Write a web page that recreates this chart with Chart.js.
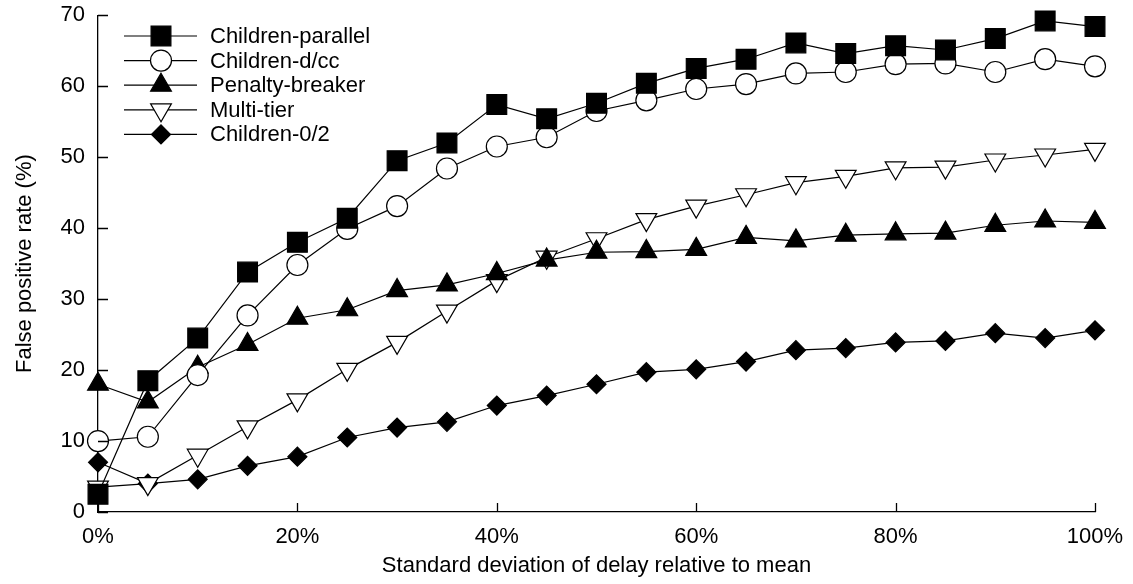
<!DOCTYPE html>
<html>
<head>
<meta charset="utf-8">
<script src="https://cdn.jsdelivr.net/npm/chart.js@4/dist/chart.umd.min.js"></script>
<style>
  html, body { margin: 0; padding: 0; background: #fff; }
  #wrap { width: 1133px; height: 584px; }
</style>
</head>
<body>
<div id="wrap"><canvas id="fprChart" width="1133" height="584"></canvas></div>
<script>
// x positions: std. deviation of delay relative to mean (%)
const xValues = [0, 5, 10, 15, 20, 25, 30, 35, 40, 45, 50, 55, 60, 65, 70, 75, 80, 85, 90, 95, 100];

const seriesNames = ['Children-parallel', 'Children-d/cc', 'Penalty-breaker', 'Multi-tier', 'Children-0/2'];

const childrenParallel = [2.5, 18.5, 24.5, 33.8, 38.0, 41.4, 49.5, 52.0, 57.4, 55.4, 57.6, 60.4, 62.5, 63.8, 66.1, 64.6, 65.7, 65.1, 66.7, 69.2, 68.4];
const childrenDcc      = [10.0, 10.6, 19.3, 27.7, 34.8, 39.9, 43.1, 48.4, 51.5, 52.8, 56.5, 58.0, 59.6, 60.3, 61.8, 62.0, 63.1, 63.2, 62.0, 63.8, 62.8];
const penaltyBreaker   = [18.0, 15.5, 20.4, 23.6, 27.3, 28.5, 31.2, 32.0, 33.6, 35.5, 36.6, 36.7, 37.0, 38.7, 38.2, 39.0, 39.2, 39.3, 40.4, 41.0, 40.8];
const multiTier        = [3.5, 4.0, 8.0, 12.0, 15.8, 20.1, 23.9, 28.3, 32.6, 35.9, 38.5, 41.2, 43.1, 44.7, 46.4, 47.3, 48.5, 48.6, 49.6, 50.3, 51.1];
const children02       = [7.0, 4.0, 4.6, 6.5, 7.8, 10.5, 11.9, 12.7, 15.0, 16.4, 18.0, 19.7, 20.1, 21.2, 22.8, 23.1, 23.9, 24.1, 25.2, 24.5, 25.6];

const yTicks = [0, 10, 20, 30, 40, 50, 60, 70];
const xTicks = [0, 20, 40, 60, 80, 100];

const FONT = 'Arial, "Liberation Sans", Helvetica, sans-serif';

function toPoints(vals) {
    return vals.map((v, i) => ({ x: xValues[i], y: v }));
}

// marker styles per series
const markers = [
    { pointStyle: 'rect',     radius: 14,  fill: '#000', rotation: 0 },
    { pointStyle: 'circle',   radius: 10.5, fill: '#fff', rotation: 0 },
    { pointStyle: 'triangle', radius: 12,  fill: '#000', rotation: 0 },
    { pointStyle: 'triangle', radius: 12,  fill: '#fff', rotation: 180 },
    { pointStyle: 'rectRot',  radius: 9.5, fill: '#000', rotation: 0 }
];

const allSeries = [childrenParallel, childrenDcc, penaltyBreaker, multiTier, children02];

const datasets = allSeries.map((vals, i) => ({
    label: seriesNames[i],
    data: toPoints(vals),
    borderColor: '#000',
    borderWidth: 1.2,
    backgroundColor: markers[i].fill,
    pointStyle: markers[i].pointStyle,
    pointRadius: markers[i].radius,
    pointHoverRadius: markers[i].radius,
    pointRotation: markers[i].rotation,
    pointBackgroundColor: markers[i].fill,
    pointBorderColor: '#000',
    pointBorderWidth: 1.2,
    tension: 0,
    clip: false
}));

// inward tick marks on both axes
const innerTicks = {
    id: 'innerTicks',
    afterDraw(chart) {
        const ctx = chart.ctx;
        const xs = chart.scales.x, ys = chart.scales.y;
        const area = chart.chartArea;
        ctx.save();
        ctx.strokeStyle = '#000';
        ctx.lineWidth = 1.3;
        ctx.beginPath();
        yTicks.forEach(v => {
            const py = Math.round(ys.getPixelForValue(v)) + 0.5;
            ctx.moveTo(area.left, py);
            ctx.lineTo(area.left + 10, py);
        });
        xTicks.forEach(v => {
            const px = Math.round(xs.getPixelForValue(v)) + 0.5;
            ctx.moveTo(px, area.bottom);
            ctx.lineTo(px, area.bottom - 9);
        });
        ctx.stroke();
        ctx.restore();
    }
};

// legend drawn like the original: short line with marker in the middle
const lineLegend = {
    id: 'lineLegend',
    afterDraw(chart) {
        const ctx = chart.ctx;
        const x0 = 124, x1 = 197, xm = 161, xt = 210, y0 = 36, dy = 24.6;
        ctx.save();
        ctx.font = '22px ' + FONT;
        ctx.textBaseline = 'middle';
        ctx.fillStyle = '#000';
        seriesNames.forEach((name, i) => {
            const y = y0 + i * dy;
            ctx.strokeStyle = '#000';
            ctx.lineWidth = 1.2;
            ctx.beginPath();
            ctx.moveTo(x0, y);
            ctx.lineTo(x1, y);
            ctx.stroke();
            ctx.fillStyle = markers[i].fill;
            ctx.strokeStyle = '#000';
            ctx.lineWidth = 1.2;
            Chart.helpers.drawPoint(ctx, {
                pointStyle: markers[i].pointStyle,
                radius: markers[i].radius,
                rotation: markers[i].rotation,
                borderWidth: 1.2
            }, xm, y);
            ctx.fillStyle = '#000';
            ctx.fillText(name, xt, y + 1);
        });
        ctx.restore();
    }
};

new Chart(document.getElementById('fprChart').getContext('2d'), {
    type: 'line',
    data: { datasets: datasets },
    options: {
        responsive: false,
        animation: false,
        devicePixelRatio: 1,
        layout: { padding: { top: 15, right: 38, left: 0, bottom: 0 } },
        plugins: {
            legend: { display: false },
            tooltip: { enabled: false }
        },
        scales: {
            x: {
                type: 'linear',
                min: 0,
                max: 100,
                afterFit: s => { s.height = 72; s.paddingLeft = 0; s.paddingRight = 0; },
                grid: { display: true, drawOnChartArea: false, drawTicks: false },
                border: { display: true, color: '#000', width: 1.3 },
                ticks: {
                    stepSize: 20,
                    padding: 12,
                    color: '#000',
                    font: { family: FONT, size: 22 },
                    maxRotation: 0,
                    callback: v => v + '%'
                },
                title: {
                    display: true,
                    text: 'Standard deviation of delay relative to mean',
                    color: '#000',
                    font: { family: FONT, size: 22 },
                    padding: { top: 4, bottom: 5 }
                }
            },
            y: {
                min: 0,
                max: 70,
                afterFit: s => { s.width = 98; s.paddingTop = 0; s.paddingBottom = 0; },
                grid: { display: true, drawOnChartArea: false, drawTicks: false },
                border: { display: true, color: '#000', width: 1.3 },
                ticks: {
                    stepSize: 10,
                    padding: 13,
                    color: '#000',
                    font: { family: FONT, size: 22 }
                },
                title: {
                    display: true,
                    text: 'False positive rate (%)',
                    color: '#000',
                    font: { family: FONT, size: 22 },
                    padding: { top: 12, bottom: 4 }
                }
            }
        }
    },
    plugins: [innerTicks, lineLegend]
});
</script>
</body>
</html>
